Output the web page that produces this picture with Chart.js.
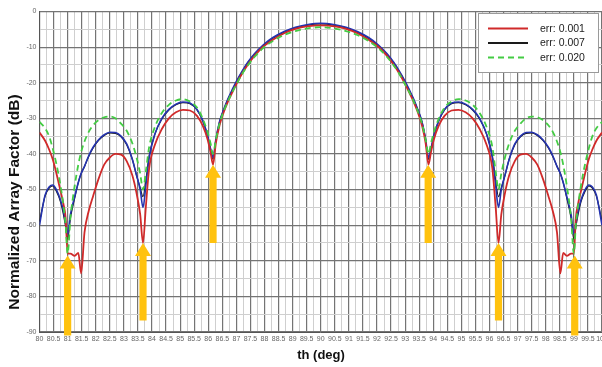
<!DOCTYPE html>
<html>
<head>
<meta charset="utf-8">
<script src="https://cdn.jsdelivr.net/npm/chart.js@4.4.1/dist/chart.umd.min.js"></script>
<style>
  html, body { margin: 0; padding: 0; background: #ffffff; }
  canvas { display: block; }
</style>
</head>
<body>
<canvas id="c" width="602" height="367"></canvas>
<script>
// ---- data ----
const theta = [
  80.0, 80.2, 80.35, 80.47, 80.6, 80.75, 80.85, 80.93, 81.0, 81.1, 81.25, 81.38, 81.48, 81.6, 81.75, 81.9, 82.1, 82.3, 82.5, 82.7,
  82.9, 83.1, 83.3, 83.45, 83.58, 83.68, 83.78, 83.9, 84.1, 84.35, 84.6, 84.85, 85.1, 85.35, 85.6, 85.8, 85.98, 86.08, 86.17, 86.27,
  86.4, 86.55, 86.7, 86.85, 87.0, 87.2, 87.4, 87.65, 87.95, 88.3, 88.7, 89.1, 89.5, 90.0,
  90.5, 90.9, 91.3, 91.7, 92.05, 92.35, 92.6, 92.8, 93.0, 93.15, 93.3, 93.45, 93.6, 93.73, 93.83, 93.92, 94.02, 94.2, 94.4, 94.65,
  94.9, 95.15, 95.4, 95.65, 95.9, 96.1, 96.22, 96.32, 96.42, 96.55, 96.7, 96.9, 97.1, 97.3, 97.5, 97.7, 97.9, 98.1, 98.25, 98.4,
  98.52, 98.62, 98.75, 98.9, 99.0, 99.07, 99.15, 99.25, 99.4, 99.53, 99.65, 99.8, 100.0
];

// err: 0.001 (red)
const err001 = [
  -34, -36.3, -38.9, -41.5, -45.4, -50.5, -54, -58, -68, -68, -68.6, -67.8, -73.5, -62, -56, -52, -47, -43, -41, -40,
  -40.2, -42, -46, -51, -57, -65, -55, -44, -37.5, -33, -30, -28.3, -27.6, -27.8, -29.3, -32, -36, -39.5, -43, -37,
  -32, -28.3, -25.3, -22.8, -20.4, -17.5, -15, -12.4, -9.9, -7.9, -6.1, -4.9, -4.2, -3.9,
  -4.2, -4.9, -6.1, -7.9, -9.9, -12.4, -15, -17.5, -20.4, -22.8, -25.3, -28.3, -32, -37, -43, -39.5, -36, -32, -29.3, -27.8,
  -27.6, -28.3, -30, -33, -37.5, -44, -55, -65, -57, -51, -46, -42, -40.2, -40, -41, -43, -47, -52, -56, -62,
  -73.5, -67.8, -68.6, -68, -68, -58, -54, -50.5, -45.4, -41.5, -38.9, -36.3, -34
];

// err: 0.007 (black)
const err007 = [
  -59, -51.8, -49.5, -49, -50.5, -53.5, -57, -60.5, -64, -58, -52.5, -48, -45.5, -43.5, -40.7, -38.4, -36.2, -34.8, -34.1, -34.2,
  -35.2, -37.4, -41.5, -46, -49.5, -52, -47.5, -40.5, -34.5, -30.2, -27.7, -26.2, -25.6, -25.9, -27.6, -30.6, -35, -38.5, -41.5, -36,
  -31, -27.6, -24.7, -22.2, -19.8, -17, -14.5, -12, -9.6, -7.5, -5.8, -4.6, -3.9, -3.5,
  -3.9, -4.6, -5.8, -7.5, -9.6, -12, -14.5, -17, -19.8, -22.2, -24.7, -27.6, -31, -36, -41.5, -38.5, -35, -30.6, -27.6, -25.9,
  -25.6, -26.2, -27.7, -30.2, -34.5, -40.5, -47.5, -52, -49.5, -46, -41.5, -37.4, -35.2, -34.2, -34.1, -34.8, -36.2, -38.4, -40.7, -43.5,
  -45.5, -48, -52.5, -58, -64, -60.5, -57, -53.5, -50.5, -49, -49.5, -51.8, -59
];

// err: 0.020 (green dashed)
const err020 = [
  -31, -32.8, -35.2, -38.5, -42.8, -49, -54.5, -60, -68, -58, -49, -43, -39.5, -36.5, -33.8, -32, -30.5, -29.7, -29.5, -30,
  -31.5, -33.5, -37, -41, -45.5, -50, -45, -38, -32.5, -28.5, -26.2, -25, -24.6, -25.3, -27, -30, -34, -37, -40, -36,
  -31.5, -28, -25.2, -22.7, -20.5, -17.6, -15.2, -12.7, -10.3, -8.3, -6.6, -5.5, -4.8, -4.4,
  -4.8, -5.5, -6.6, -8.3, -10.3, -12.7, -15.2, -17.6, -20.5, -22.7, -25.2, -28, -31.5, -36, -40, -37, -34, -30, -27, -25.3,
  -24.6, -25, -26.2, -28.5, -32.5, -38, -45, -50, -45.5, -41, -37, -33.5, -31.5, -30, -29.5, -29.7, -30.5, -32, -33.8, -36.5,
  -39.5, -43, -49, -58, -68, -60, -54.5, -49, -42.8, -38.5, -35.2, -32.8, -31
];

// blue curve (not in legend)
const blueCurve = [
  -60, -51.5, -49.2, -48.7, -50, -53, -56, -59.5, -62.5, -57, -52, -48, -45.5, -43.5, -40.5, -38.2, -36, -34.6, -33.9, -34,
  -35, -37.2, -41.5, -46, -50, -55, -49, -41, -34.5, -30, -27.5, -26, -25.4, -25.7, -27.5, -30.5, -35, -38.5, -41, -36,
  -31, -27.5, -24.5, -22, -19.6, -16.8, -14.3, -11.8, -9.4, -7.3, -5.6, -4.4, -3.7, -3.3,
  -3.7, -4.4, -5.6, -7.3, -9.4, -11.8, -14.3, -16.8, -19.6, -22, -24.5, -27.5, -31, -36, -41, -38.5, -35, -30.5, -27.5, -25.7,
  -25.4, -26, -27.5, -30, -34.5, -41, -49, -55, -50, -46, -41.5, -37.2, -35, -34, -33.9, -34.6, -36, -38.2, -40.5, -43.5,
  -45.5, -48, -52, -57, -62.5, -59.5, -56, -53, -50, -48.7, -49.2, -51.5, -60
];

const legendLabels = ['err: 0.001', 'err: 0.007', 'err: 0.020'];

// yellow arrows: position (deg), tip (dB), tail (dB)
const arrowTh   = [81.0, 83.68, 86.17, 93.82, 96.32, 99.03];
const arrowTip  = [-68.5, -65, -43, -43, -65, -68.5];
const arrowTail = [-91, -86.8, -65, -65, -86.8, -91];

const yTitle = 'Normalized Array Factor (dB)';
const xTitle = 'th (deg)';

// ---- chart ----
const FONT = '"Liberation Sans", Arial, sans-serif';
const pts = (ys) => theta.map((t, i) => ({ x: t, y: ys[i] }));

const decor = {
  id: 'decor',
  afterDatasetsDraw(chart) {
    const ctx = chart.ctx, xs = chart.scales.x, ys = chart.scales.y;
    ctx.save();
    ctx.fillStyle = '#FFC20E';
    for (let i = 0; i < arrowTh.length; i++) {
      const x = xs.getPixelForValue(arrowTh[i]);
      const yTip = ys.getPixelForValue(arrowTip[i]);
      const yTail = ys.getPixelForValue(arrowTail[i]);
      const headH = 13, headW = 8, shaftW = 3.6;
      ctx.beginPath();
      ctx.moveTo(x, yTip);
      ctx.lineTo(x + headW, yTip + headH);
      ctx.lineTo(x + shaftW, yTip + headH);
      ctx.lineTo(x + shaftW, yTail);
      ctx.lineTo(x - shaftW, yTail);
      ctx.lineTo(x - shaftW, yTip + headH);
      ctx.lineTo(x - headW, yTip + headH);
      ctx.closePath();
      ctx.fill();
    }
    ctx.restore();
  },
  afterDraw(chart) {
    const ctx = chart.ctx;
    ctx.save();
    // legend box
    const lx = 478.5, ly = 13.5, lw = 120, lh = 59;
    ctx.fillStyle = '#ffffff';
    ctx.fillRect(lx, ly, lw, lh);
    ctx.strokeStyle = '#9a9a9a';
    ctx.lineWidth = 1;
    ctx.strokeRect(lx, ly, lw, lh);
    const rows = [28.5, 43, 57.5];
    const dsIdx = [0, 1, 2];
    ctx.font = '10.5px ' + FONT;
    ctx.textAlign = 'left';
    ctx.textBaseline = 'middle';
    dsIdx.forEach((d, i) => {
      const ds = chart.data.datasets[d];
      ctx.beginPath();
      ctx.strokeStyle = ds.borderColor;
      ctx.lineWidth = 2;
      ctx.setLineDash(ds.borderDash || []);
      ctx.moveTo(488, rows[i]);
      ctx.lineTo(528, rows[i]);
      ctx.stroke();
      ctx.setLineDash([]);
      ctx.fillStyle = '#222222';
      ctx.fillText(legendLabels[i], 540, rows[i] + 0.5);
    });
    // axis titles
    ctx.fillStyle = '#111111';
    ctx.textAlign = 'center';
    ctx.textBaseline = 'middle';
    ctx.font = 'bold 13px ' + FONT;
    ctx.fillText(xTitle, 321, 355);
    ctx.translate(15, 202);
    ctx.rotate(-Math.PI / 2);
    ctx.font = 'bold 15.5px ' + FONT;
    ctx.fillText(yTitle, 0, 0);
    ctx.restore();
  }
};

new Chart(document.getElementById('c'), {
  type: 'line',
  data: {
    datasets: [
      { label: legendLabels[0], data: pts(err001), borderColor: '#d02a2a', borderWidth: 1.8, order: 2 },
      { label: legendLabels[1], data: pts(err007), borderColor: '#1a1a1a', borderWidth: 1.2, order: 4 },
      { label: legendLabels[2], data: pts(err020), borderColor: '#44cc44', borderWidth: 1.8, borderDash: [6, 4], order: 1 },
      { label: '', data: pts(blueCurve), borderColor: '#2433b0', borderWidth: 1.6, order: 3 }
    ]
  },
  options: {
    responsive: false,
    animation: false,
    devicePixelRatio: 1,
    layout: { padding: { top: 11.5, right: 0, left: 0, bottom: 0 } },
    elements: {
      point: { radius: 0, hoverRadius: 0 },
      line: { cubicInterpolationMode: 'monotone', fill: false }
    },
    plugins: { legend: { display: false }, tooltip: { enabled: false } },
    scales: {
      x: {
        type: 'linear',
        min: 80, max: 100,
        ticks: {
          stepSize: 0.25,
          autoSkip: false,
          maxRotation: 0, minRotation: 0,
          padding: 3,
          color: '#666666',
          font: { family: FONT, size: 7 },
          callback: (v) => (Math.round(v * 4) % 2 === 0) ? String(Math.round(v * 10) / 10) : ''
        },
        grid: {
          drawTicks: false,
          color: (c) => (c.tick && Math.round(c.tick.value * 4) % 2 === 0) ? '#747474' : '#cfcfcf',
          lineWidth: (c) => (c.tick && Math.round(c.tick.value * 4) % 2 === 0) ? 1.2 : 1
        },
        border: { display: true, color: '#555555', width: 1 },
        afterFit: (s) => { s.height = 35; s.paddingLeft = 0; s.paddingRight = 0; }
      },
      y: {
        type: 'linear',
        min: -90, max: 0,
        ticks: {
          stepSize: 5,
          padding: 3,
          color: '#666666',
          font: { family: FONT, size: 7 },
          callback: (v) => (Math.round(v) % 10 === 0) ? String(Math.round(v)) : ''
        },
        grid: {
          drawTicks: false,
          color: (c) => (c.tick && Math.round(c.tick.value) % 10 === 0) ? '#747474' : '#cfcfcf',
          lineWidth: (c) => (c.tick && Math.round(c.tick.value) % 10 === 0) ? 1.2 : 1
        },
        border: { display: true, color: '#555555', width: 1 },
        afterFit: (s) => { s.width = 39.5; s.paddingTop = 0; s.paddingBottom = 0; }
      }
    }
  },
  plugins: [decor]
});
</script>
</body>
</html>
